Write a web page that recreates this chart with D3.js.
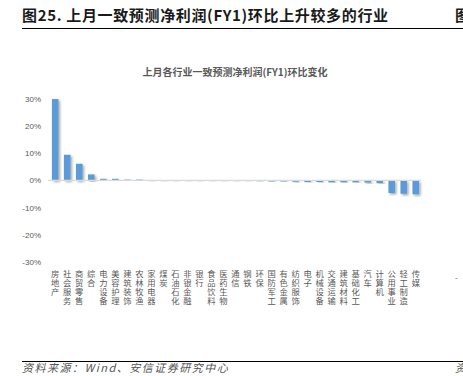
<!DOCTYPE html>
<html>
<head>
<meta charset="utf-8">
<script src="https://cdn.jsdelivr.net/npm/d3@7"></script>
<style>
  body { margin: 0; background: #fff; }
  svg { display: block; font-family: "Noto Sans CJK SC", "Noto Sans", sans-serif; }
</style>
</head>
<body>
<svg id="chart" width="463" height="376"></svg>
<script>
// Industry consensus net profit (FY1) month-over-month change

const industries = [
  '房地产', '社会服务', '商贸零售', '综合', '电力设备', '美容护理', '建筑装饰', '农林牧渔',
  '家用电器', '煤炭', '石油石化', '非银金融', '银行', '食品饮料', '医药生物', '通信',
  '钢铁', '环保', '国防军工', '有色金属', '纺织服饰', '电子', '机械设备', '交通运输',
  '建筑材料', '基础化工', '汽车', '计算机', '公用事业', '轻工制造', '传媒'
];
const changes = [
  29.8, 9.4, 6.1, 2.2, 0.6, 0.6, 0.3, 0.3,
  0.05, 0.05, 0.05, 0.05, 0.05, 0.05, 0.05, 0.05,
  0.05, -0.2, -0.4, -0.4, -0.5, -0.6, -0.6, -0.7,
  -0.7, -0.7, -0.8, -1.0, -4.6, -4.9, -5.1
];
const yTicks = [30, 20, 10, 0, -10, -20, -30];

const svg = d3.select('#chart');

// page header
svg.append('text')
  .attr('x', 22).attr('y', 21)
  .attr('font-size', 15).attr('font-weight', 'bold')
  .attr('letter-spacing', 0.65)
  .attr('fill', '#1a1a1a')
  .text('图25. 上月一致预测净利润(FY1)环比上升较多的行业');
svg.append('text')
  .attr('x', 455).attr('y', 21)
  .attr('font-size', 15).attr('font-weight', 'bold')
  .attr('fill', '#1a1a1a')
  .text('图');
svg.append('line')
  .attr('x1', 22).attr('x2', 463).attr('y1', 28.5).attr('y2', 28.5)
  .attr('stroke', '#000').attr('stroke-width', 1.2);

// chart title
svg.append('text')
  .attr('x', 235).attr('y', 76)
  .attr('text-anchor', 'middle')
  .attr('font-size', 10).attr('font-weight', 'bold')
  .attr('fill', '#595959')
  .text('上月各行业一致预测净利润(FY1)环比变化');

const x = d3.scaleBand()
  .domain(industries)
  .range([49.5, 421.5])
  .paddingInner(0.45)
  .paddingOuter(0.2);

const y = d3.scaleLinear()
  .domain([-30, 30])
  .range([262.3, 98.5]);

// shadow for bars
const defs = svg.append('defs');
const f = defs.append('filter').attr('id', 'shadow')
  .attr('x', '-50%').attr('y', '-20%').attr('width', '200%').attr('height', '140%');
f.append('feDropShadow')
  .attr('dx', 1.5).attr('dy', 1.5).attr('stdDeviation', 0.8)
  .attr('flood-color', '#000').attr('flood-opacity', 0.35);

// y axis labels
const yAxis = d3.axisLeft(y)
  .tickValues(yTicks)
  .tickSize(0)
  .tickPadding(0)
  .tickFormat(d => d + '%');
svg.append('g')
  .attr('transform', 'translate(41,0)')
  .call(yAxis)
  .call(g => g.select('.domain').remove())
  .call(g => g.selectAll('text')
    .attr('font-size', 8)
    .attr('fill', '#595959')
    .attr('font-family', '"Liberation Sans", Arial, sans-serif'));

// bars
svg.append('g')
  .selectAll('rect')
  .data(changes)
  .join('rect')
  .attr('x', (d, i) => x(industries[i]))
  .attr('width', x.bandwidth())
  .attr('y', d => y(Math.max(0, d)))
  .attr('height', d => Math.max(0.8, Math.abs(y(d) - y(0))))
  .attr('fill', '#5b9bd5')
  .attr('filter', 'url(#shadow)');

// zero line
svg.append('line')
  .attr('x1', 48).attr('x2', 421)
  .attr('y1', y(0)).attr('y2', y(0))
  .attr('stroke', '#d9d9d9').attr('stroke-width', 1.2);

// category labels, written top to bottom
svg.append('g')
  .selectAll('text')
  .data(industries)
  .join('text')
  .attr('x', d => x(d) + x.bandwidth() / 2)
  .attr('y', 269.5)
  .attr('writing-mode', 'vertical-rl')
  .attr('font-size', 8.3)
  .attr('letter-spacing', 0.7)
  .attr('fill', '#595959')
  .text(d => d);

// cut-off tick from the next panel
svg.append('text')
  .attr('x', 455).attr('y', 281)
  .attr('font-size', 8).attr('fill', '#595959')
  .text('-');

// footer
svg.append('line')
  .attr('x1', 22).attr('x2', 463).attr('y1', 361.5).attr('y2', 361.5)
  .attr('stroke', '#000').attr('stroke-width', 1.2);
svg.append('text')
  .attr('x', 22).attr('y', 372)
  .attr('font-size', 11).attr('font-style', 'italic')
  .attr('letter-spacing', 1.5)
  .attr('fill', '#555')
  .text('资料来源：Wind、安信证券研究中心');
svg.append('text')
  .attr('x', 455).attr('y', 372)
  .attr('font-size', 11).attr('font-style', 'italic')
  .attr('fill', '#555')
  .text('资');
</script>
</body>
</html>
